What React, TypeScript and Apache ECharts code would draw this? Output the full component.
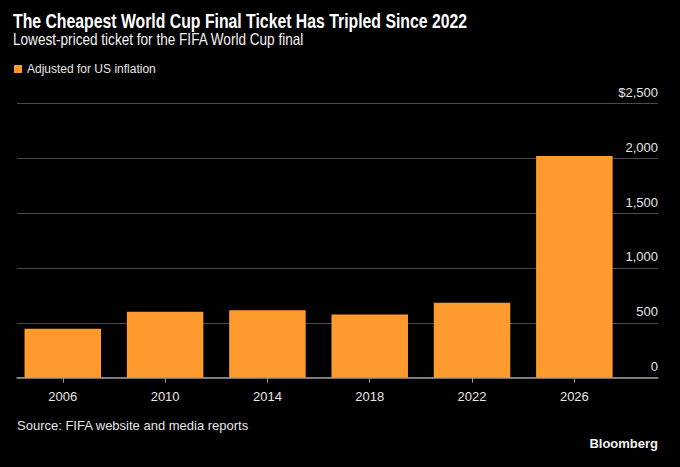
import React, { useEffect, useRef } from "react";
import * as echarts from "echarts";

const years = [2006, 2010, 2014, 2018, 2022, 2026];
const prices = [445, 600, 615, 576, 682, 2020];
const yTicks = [0, 500, 1000, 1500, 2000, 2500];
const titleText = "The Cheapest World Cup Final Ticket Has Tripled Since 2022";
const subtitleText = "Lowest-priced ticket for the FIFA World Cup final";
const legendText = "Adjusted for US inflation";
const sourceText = "Source: FIFA website and media reports";

const SANS = "'Liberation Sans', Arial, sans-serif";

export default function App() {
  const ref = useRef<HTMLDivElement>(null);
  useEffect(() => {
    document.body.style.margin = "0";
    document.body.style.background = "#000";
    const chart = echarts.init(ref.current!, undefined, { renderer: "svg" });
    const fmt = (v: number) => {
      const s = String(v).replace(/\B(?=(\d{3})+(?!\d))/g, ",");
      return v === yTicks[yTicks.length - 1] ? "$" + s : s;
    };
    chart.setOption({
      animation: false,
      backgroundColor: "#000",
      graphic: [
        {
          type: "text",
          x: 13,
          y: 11,
          scaleX: 0.79,
          style: {
            text: titleText,
            fill: "#fff",
            fontSize: 20,
            fontWeight: "bold",
            fontFamily: SANS,
            verticalAlign: "top",
          },
        },
        {
          type: "text",
          x: 13,
          y: 32,
          scaleX: 0.85,
          style: {
            text: subtitleText,
            fill: "#f2f2f2",
            fontSize: 16,
            fontFamily: SANS,
            verticalAlign: "top",
          },
        },
      ],
      title: [
        {
          text: sourceText,
          left: 12,
          top: 414,
          textStyle: { color: "#e6e6e6", fontSize: 13, fontWeight: "normal", fontFamily: SANS },
        },
        {
          text: "Bloomberg",
          right: 17,
          top: 432,
          textStyle: { color: "#f2f2f2", fontSize: 13, fontWeight: "bold", fontFamily: SANS },
        },
      ],
      legend: {
        left: 9,
        top: 58,
        icon: "rect",
        itemWidth: 8,
        itemHeight: 8,
        itemGap: 10,
        textStyle: { color: "#e6e6e6", fontSize: 12, fontFamily: SANS },
        data: [legendText],
      },
      grid: { left: 17, right: 22, top: 103.3, bottom: 89.3 },
      xAxis: {
        type: "value",
        min: 2004.21,
        max: 2029.27,
        splitLine: { show: false },
        axisLine: { show: true, lineStyle: { color: "#9a9a9a", width: 1.5 } },
        axisTick: { show: true, customValues: years, length: 5, lineStyle: { color: "#9a9a9a" } },
        axisLabel: {
          customValues: years,
          color: "#e6e6e6",
          fontSize: 13,
          fontFamily: SANS,
          margin: 12,
          formatter: (v: number) => String(v),
        },
      },
      yAxis: {
        type: "value",
        position: "right",
        min: 0,
        max: 2500,
        interval: 500,
        axisLine: { show: false },
        axisTick: { show: false },
        splitLine: { show: true, lineStyle: { color: "#4a4a4a", width: 1 } },
        axisLabel: {
          inside: true,
          margin: 0,
          align: "right",
          verticalAlign: "bottom",
          lineHeight: 22,
          color: "#e6e6e6",
          fontSize: 13,
          fontFamily: SANS,
          formatter: fmt,
        },
      },
      series: [
        {
          name: legendText,
          type: "bar",
          barWidth: 76.5,
          itemStyle: { color: "#FF9A2E" },
          data: years.map((y, i) => [y, prices[i]]),
        },
      ],
    });
    return () => chart.dispose();
  }, []);
  return <div ref={ref} style={{ width: 680, height: 467, background: "#000" }} />;
}
